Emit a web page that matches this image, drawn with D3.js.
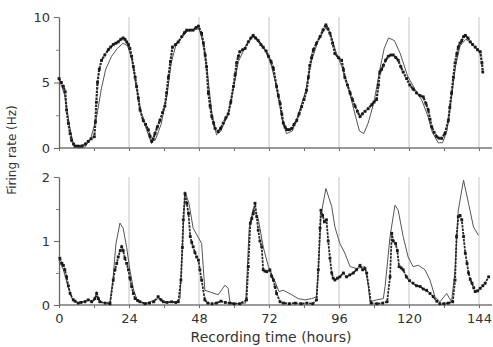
<!DOCTYPE html>
<html>
<head>
<meta charset="utf-8">
<script src="https://cdn.jsdelivr.net/npm/d3@7"></script>
<style>
  body { margin: 0; background: #fff; }
  svg { display: block; }
  text { font-family: "DejaVu Sans", sans-serif; fill: #333; }
</style>
</head>
<body>
<svg id="chart" width="493" height="347"></svg>
<script>
// recording time ticks (hours)
const hourTicks = [0, 24, 48, 72, 96, 120, 144];

// top panel: measured firing rate (Hz), [hour, value]
const topDots = [
  [0,5.3],[0.8,5.0],[1.5,4.7],[2.1,4.3],[2.6,2.9],[3.2,1.9],[3.8,1.1],[4.3,0.6],[5,0.3],[5.5,0.15],
  [6.5,0.15],[7.8,0.15],[9,0.3],[10,0.5],[11,0.7],[12.1,0.86],[12.5,2.0],[12.8,3.5],[13.2,5.0],[13.8,6.0],
  [14.6,6.7],[15.7,7.1],[16.9,7.5],[17.7,7.7],[18.6,7.9],[19.5,8.0],[20.3,8.1],[21.2,8.3],[22,8.4],[22.6,8.3],
  [23.2,8.1],[23.8,7.9],[24.3,7.6],[24.9,7.0],[25.5,6.2],[26.1,5.4],[26.6,4.7],[27.2,3.8],[27.8,2.9],[28.9,2.1],
  [29.7,1.8],[30.6,1.4],[31.2,0.9],[31.8,0.5],[32.3,0.7],[32.9,1.1],[33.7,1.6],[34.6,2.1],[35.5,2.7],[36.3,3.2],
  [36.9,4.2],[37.5,5.4],[38.2,6.6],[38.9,7.7],[40,7.9],[40.9,8.1],[42.1,8.5],[43,8.8],[43.8,9.0],[45,9.0],
  [46,9.0],[47,9.2],[47.8,9.3],[48.9,8.75],[49.5,8.0],[50.1,7.1],[50.6,6.2],[51.2,4.2],[51.8,3.2],[52.4,2.4],
  [53,1.9],[53.5,1.5],[54.6,1.25],[55.4,1.5],[56.3,1.9],[57.2,2.3],[58,2.6],[58.9,3.5],[59.8,4.7],[60.4,5.6],
  [60.9,6.5],[61.5,7.0],[62,7.35],[63,7.5],[63.8,7.6],[64.9,8.1],[65.8,8.4],[66.6,8.6],[67.4,8.4],[68.3,8.2],
  [69.2,7.9],[70,7.7],[71,7.4],[71.8,7.0],[72.7,6.6],[73.5,6.1],[74.6,4.7],[75.2,4.0],[75.8,3.4],[76.4,2.6],
  [76.9,1.9],[77.5,1.6],[78.1,1.4],[79,1.4],[79.8,1.5],[80.6,1.8],[81.5,2.1],[82.3,2.6],[83.2,3.15],[84,3.7],
  [84.9,4.4],[85.5,5.4],[86,6.3],[86.6,6.9],[87.2,7.5],[88.3,8.0],[89.5,8.5],[90.5,9.0],[91.5,9.4],[92.2,9.1],
  [92.9,8.75],[93.8,8.0],[94.6,7.2],[95.8,6.9],[96.9,6.7],[97.5,6.0],[98,5.4],[98.9,4.8],[99.8,4.2],[100.6,3.7],
  [101.5,3.2],[102.3,2.8],[103.2,2.4],[104,2.6],[104.9,2.8],[106,3.0],[107.2,3.3],[108,3.5],[108.9,3.7],[109.5,4.8],
  [110,5.8],[110.6,6.0],[111.2,6.3],[112,6.7],[112.9,7.0],[113.8,7.1],[114.6,7.1],[115.5,6.9],[116.3,6.7],[117.2,6.2],
  [118,5.8],[119.2,5.3],[120.3,4.8],[121.4,4.5],[122.6,4.2],[123.8,4.0],[124.9,3.9],[125.8,3.4],[126.6,2.9],[127.2,2.2],
  [127.8,1.6],[128.6,1.2],[129.5,0.86],[130.3,0.75],[131.2,0.74],[132.3,1.1],[133.5,2.1],[134,3.1],[134.6,4.2],[135.2,5.4],
  [135.8,6.5],[136.4,7.2],[136.9,7.7],[137.5,8.0],[138.1,8.2],[138.7,8.5],[139.3,8.6],[140.2,8.4],[141,8.1],[141.8,7.9],
  [142.7,7.7],[143.5,7.5],[144.4,7.35],[145,6.5],[145.3,5.8]
];

// top panel: fitted curve
const topFit = [
  [0,5.3],[2,4.0],[3.5,1.8],[5,0.2],[7,0.0],[9,0.1],[11,0.8],[13,2.5],[14.5,4.5],[16,6.0],
  [18,7.0],[20,7.6],[22,8.0],[23.5,7.8],[25,6.8],[26.5,4.8],[28,2.8],[30,1.4],[31.5,0.5],[33,0.6],
  [35,1.8],[37,4.0],[38.5,6.5],[40,7.8],[42,8.4],[44,8.9],[46,9.0],[48,9.1],[49.5,8.0],[51,5.5],
  [52.5,2.5],[54,1.0],[55.5,1.3],[58,2.6],[60,4.8],[61.5,6.6],[64,7.8],[66.5,8.5],[69,8.0],[72,7.0],
  [74.5,4.8],[76.5,2.2],[78,1.1],[80,1.3],[82,2.5],[84.5,4.3],[86.5,6.6],[89,8.3],[91.5,9.2],[93,8.8],
  [95,7.3],[97,6.2],[99,4.8],[101,3.0],[103,1.3],[104.5,1.1],[106,1.9],[108,3.5],[110,6.0],[111.5,7.6],
  [113,8.4],[115,8.2],[117,7.2],[119.5,5.5],[122,4.5],[124.5,3.6],[126.5,2.4],[128,1.2],[130,0.4],[131.5,0.4],
  [133,1.3],[134.5,3.8],[136,6.3],[137.5,7.8],[139.5,8.3],[141.5,8.0],[143.5,7.5],[145,7.0]
];

// bottom panel: measured firing rate (Hz)
const bottomDots = [
  [0.3,0.73],[1,0.65],[1.5,0.62],[2,0.55],[2.6,0.44],[3.2,0.3],[3.8,0.18],[4.9,0.08],[5.5,0.06],[6.6,0.03],
  [7.5,0.04],[8.9,0.05],[10,0.08],[11.2,0.05],[12.3,0.1],[12.9,0.18],[13.5,0.1],[14,0.05],[15.8,0.03],[17.5,0.02],
  [18.6,0.39],[19.2,0.55],[19.8,0.65],[20.3,0.75],[21,0.85],[21.5,0.91],[22,0.85],[22.6,0.73],[23.2,0.65],[23.8,0.55],
  [24.3,0.42],[24.9,0.29],[25.5,0.18],[26.1,0.1],[27,0.07],[27.8,0.05],[29.5,0.02],[31,0.03],[32.5,0.05],[34,0.13],
  [35,0.08],[35.8,0.05],[37,0.04],[38.6,0.05],[40,0.04],[40.9,0.05],[41.8,0.39],[42.3,0.9],[42.6,1.33],[43.2,1.74],
  [43.8,1.59],[44.4,1.43],[45,1.07],[45.5,0.98],[46,0.91],[46.6,0.82],[47.2,0.75],[47.8,0.7],[48.3,0.55],[48.9,0.39],
  [50,0.08],[51,0.03],[52.5,0.02],[54,0.03],[55.5,0.06],[57,0.04],[58.5,0.03],[60,0.02],[62,0.02],[64.3,0.08],
  [64.9,0.6],[65.6,1.28],[66.1,1.35],[66.6,1.43],[67.2,1.59],[67.8,1.38],[68.3,1.17],[68.9,1.0],[69.5,0.91],[70,0.55],
  [70.6,0.53],[71.2,0.52],[72.3,0.55],[72.9,0.45],[73.5,0.39],[74.1,0.28],[74.6,0.18],[75.8,0.05],[77,0.03],[79,0.02],
  [81,0.03],[83,0.02],[85,0.03],[87,0.02],[88.3,0.08],[88.9,0.55],[89.5,1.2],[89.8,1.48],[90.4,1.4],[91,1.3],
  [91.7,1.33],[92.3,1.0],[92.9,0.73],[93.5,0.5],[94,0.42],[94.6,0.39],[95.5,0.42],[96.3,0.44],[97.5,0.5],[98.6,0.44],
  [99.7,0.47],[100.9,0.5],[102,0.55],[103.2,0.62],[104.1,0.55],[104.9,0.57],[105.5,0.5],[107,0.03],[109,0.02],[111,0.03],
  [112.5,0.05],[113.5,0.44],[114.1,1.12],[114.6,1.0],[115.4,0.96],[116,0.85],[116.6,0.6],[117.3,0.58],[118,0.55],[119.1,0.44],
  [120.2,0.38],[121.4,0.34],[122.6,0.3],[123.8,0.29],[124.9,0.25],[126,0.23],[127.2,0.18],[128.3,0.13],[129.5,0.06],[130.6,0.02],
  [132,0.02],[133.5,0.03],[135,0.05],[135.8,0.39],[136.3,1.07],[136.9,1.38],[137.5,1.4],[138.1,1.33],[138.7,1.07],[139.3,0.81],
  [139.9,0.65],[140.4,0.5],[141,0.4],[141.6,0.34],[142.2,0.27],[142.7,0.21],[143.5,0.22],[144.4,0.26],[145.3,0.3],[146.1,0.34],
  [147.3,0.44]
];

// bottom panel: fitted curve
const bottomFit = [
  [0,0.7],[1.5,0.55],[3,0.3],[4.5,0.1],[6,0.03],[8,0.05],[10,0.08],[12,0.06],[13,0.15],[14,0.05],
  [16,0.03],[17.5,0.05],[18.5,0.4],[19.5,0.95],[20.9,1.28],[22,1.2],[23.2,0.9],[24.3,0.55],[25.5,0.25],[27,0.05],
  [30,0.03],[34,0.1],[36,0.04],[40,0.04],[41.5,0.1],[42.3,0.9],[43.2,1.77],[44.5,1.6],[46,1.2],[48.9,0.96],
  [50,0.23],[52,0.2],[54.6,0.16],[56.9,0.31],[58,0.26],[58.6,0.05],[60,0.02],[64,0.03],[64.5,0.5],[65.2,1.2],
  [66.6,1.51],[68.3,1.35],[70,0.91],[71.8,0.6],[74.3,0.34],[75.4,0.21],[76.9,0.23],[79.8,0.16],[82,0.1],[84.3,0.08],
  [86.6,0.1],[88.3,0.13],[89,0.6],[89.8,1.4],[91.5,1.82],[93.5,1.54],[94.6,1.22],[96.3,0.96],[98,0.81],[99.8,0.6],
  [102,0.57],[104.9,0.6],[106.1,0.29],[106.6,0.05],[108.9,0.08],[111.2,0.1],[111.8,0.29],[113.5,1.07],[115.2,1.56],[116.3,1.48],
  [118,1.07],[119.7,0.75],[121.4,0.6],[123.2,0.62],[125.5,0.55],[127.2,0.39],[128.9,0.13],[130.6,0.05],[132.9,0.18],[134.6,0.05],
  [135.8,0.55],[136.9,1.48],[138.7,1.95],[140.4,1.59],[142.1,1.22],[143.8,1.09]
];

const svg = d3.select("#chart");
const x = d3.scaleLinear().domain([0, 144]).range([59, 479]);

function drawPanel(yMax, top, bottom, majorTicks, minorTicks, dots, fit, showLabels, traceWidth) {
  const y = d3.scaleLinear().domain([0, yMax]).range([bottom, top]);
  const g = svg.append("g");

  // daily gray guides
  g.selectAll("line.day")
    .data(hourTicks.slice(1))
    .enter()
    .append("line")
    .attr("x1", d => x(d)).attr("x2", d => x(d))
    .attr("y1", y(yMax)).attr("y2", y(0))
    .attr("stroke", "#c4c4c4")
    .attr("stroke-width", 1);

  // x axis
  const xAxis = g.append("g")
    .attr("transform", "translate(0," + y(0) + ")")
    .call(d3.axisBottom(x)
      .tickValues(d3.range(0, 145, 12))
      .tickSize(3)
      .tickPadding(6)
      .tickFormat(d => (showLabels && d % 24 === 0) ? d : ""));
  xAxis.select(".domain").remove();
  xAxis.selectAll(".tick line").attr("stroke", "#666");
  xAxis.selectAll("text").style("font-size", "13px").attr("fill", "#333");
  g.append("line")
    .attr("x1", x(0)).attr("x2", 492)
    .attr("y1", y(0)).attr("y2", y(0))
    .attr("stroke", "#777").attr("stroke-width", 1.5);

  // y axis
  const yAxis = g.append("g")
    .attr("transform", "translate(" + x(0) + ",0)")
    .call(d3.axisLeft(y).tickValues(majorTicks).tickSize(5).tickSizeOuter(0).tickPadding(4)
      .tickFormat(d3.format("d")));
  yAxis.select(".domain").attr("stroke", "#666").attr("stroke-width", 1.3);
  yAxis.selectAll(".tick line").attr("stroke", "#666");
  yAxis.selectAll("text").style("font-size", "13px").attr("fill", "#333");
  g.append("g")
    .attr("transform", "translate(" + x(0) + ",0)")
    .call(d3.axisLeft(y).tickValues(minorTicks).tickSize(3).tickFormat(""))
    .call(a => a.select(".domain").remove())
    .selectAll(".tick line").attr("stroke", "#888");

  // fitted curve
  const line = d3.line().x(d => x(d[0])).y(d => y(d[1]));
  g.append("path")
    .datum(fit)
    .attr("d", line)
    .attr("fill", "none")
    .attr("stroke", "#555")
    .attr("stroke-width", 1);

  // measured trace: joined points plus square markers
  g.append("path")
    .datum(dots)
    .attr("d", line)
    .attr("fill", "none")
    .attr("stroke", "#262626")
    .attr("stroke-width", traceWidth)
    .attr("stroke-dasharray", "2.5,1");
  g.selectAll("rect.pt")
    .data(dots)
    .enter()
    .append("rect")
    .attr("x", d => x(d[0]) - 1.4)
    .attr("y", d => y(d[1]) - 1.4)
    .attr("width", 2.8)
    .attr("height", 2.8)
    .attr("fill", "#1a1a1a");
}

drawPanel(10, 17, 148, [0, 5, 10], [2.5, 7.5], topDots, topFit, false, 2.2);
drawPanel(2, 177, 305, [0, 1, 2], [0.5, 1.5], bottomDots, bottomFit, true, 1.8);

// axis titles
svg.append("text")
  .attr("x", 271).attr("y", 342)
  .attr("text-anchor", "middle")
  .style("font-size", "14px")
  .text("Recording time (hours)");

svg.append("text")
  .attr("transform", "translate(16,150) rotate(-90)")
  .attr("text-anchor", "middle")
  .style("font-size", "12px")
  .text("Firing rate (Hz)");
</script>
</body>
</html>
